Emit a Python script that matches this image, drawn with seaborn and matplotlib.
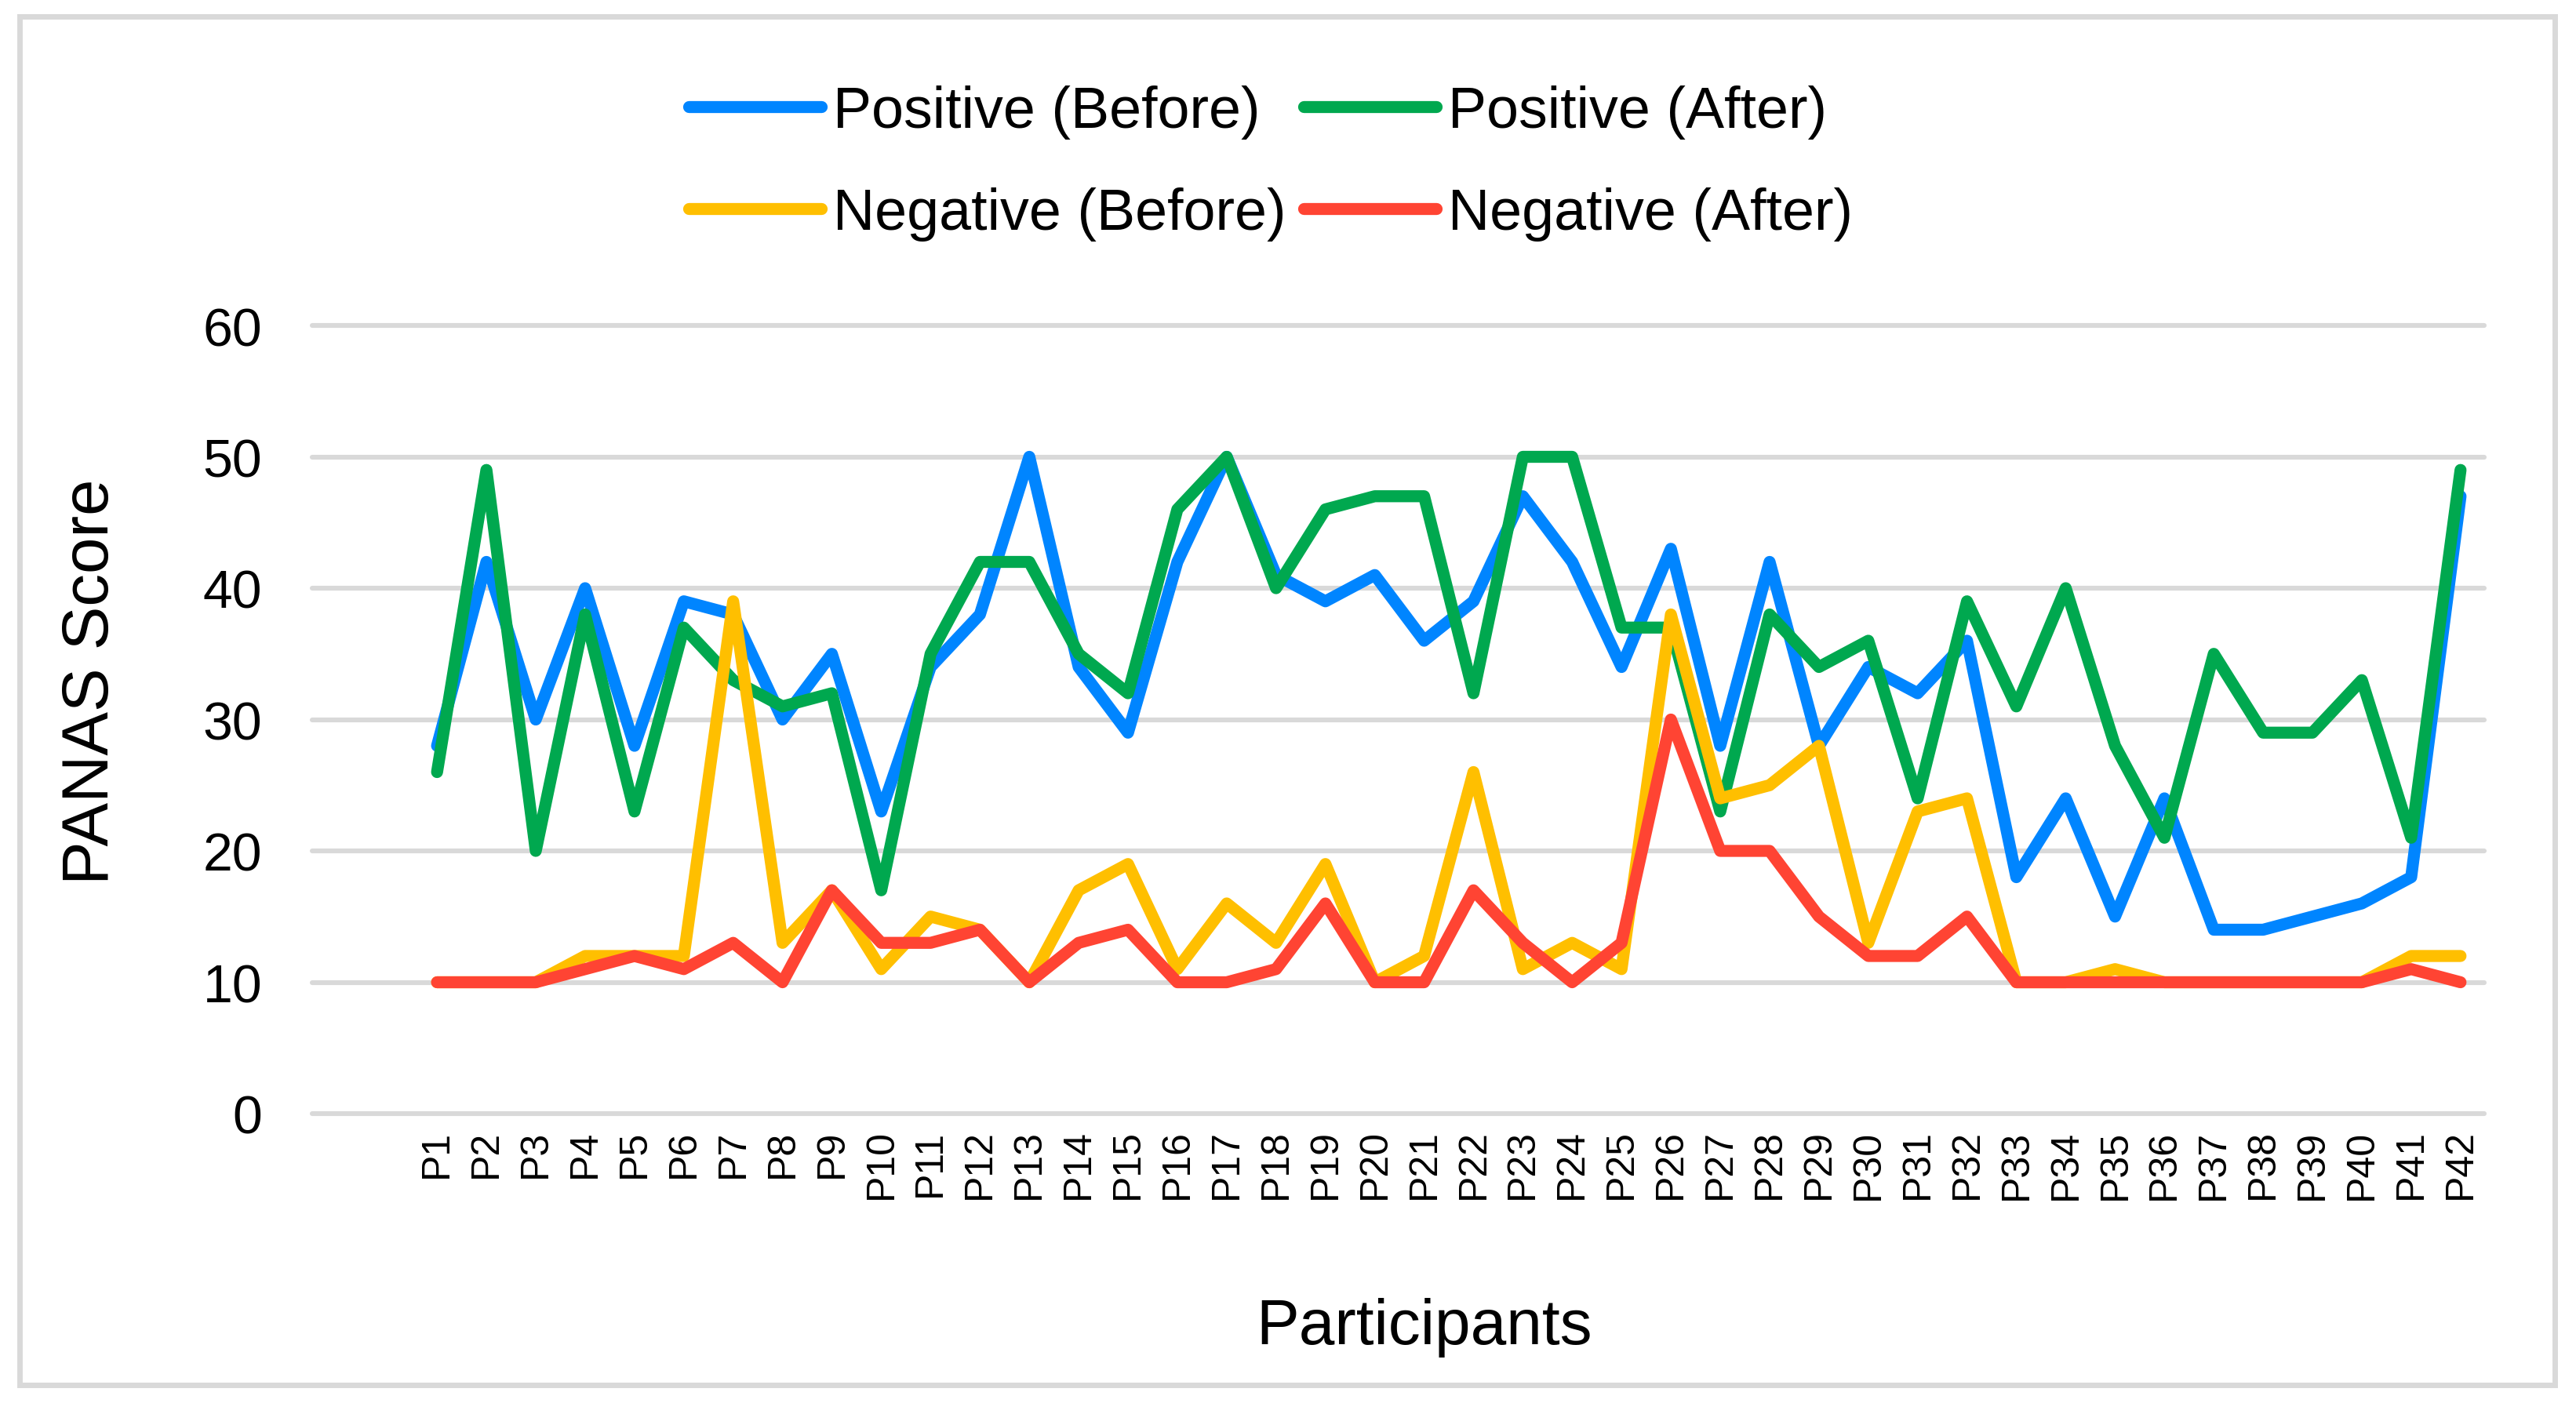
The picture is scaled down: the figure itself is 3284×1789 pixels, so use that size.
import numpy as np
import pandas as pd
import seaborn as sns
import matplotlib.pyplot as plt
from matplotlib.patches import Rectangle

participants = ['P' + str(i) for i in range(1, 43)]

pos_before = [28, 42, 30, 40, 28, 39, 38, 30, 35, 23, 34, 38, 50, 34, 29, 42, 50, 41, 39, 41, 36,
              39, 47, 42, 34, 43, 28, 42, 28, 34, 32, 36, 18, 24, 15, 24, 14, 14, 15, 16, 18, 47]
pos_after = [26, 49, 20, 38, 23, 37, 33, 31, 32, 17, 35, 42, 42, 35, 32, 46, 50, 40, 46, 47, 47,
             32, 50, 50, 37, 37, 23, 38, 34, 36, 24, 39, 31, 40, 28, 21, 35, 29, 29, 33, 21, 49]
neg_before = [10, 10, 10, 12, 12, 12, 39, 13, 17, 11, 15, 14, 10, 17, 19, 11, 16, 13, 19, 10, 12,
              26, 11, 13, 11, 38, 24, 25, 28, 13, 23, 24, 10, 10, 11, 10, 10, 10, 10, 10, 12, 12]
neg_after = [10, 10, 10, 11, 12, 11, 13, 10, 17, 13, 13, 14, 10, 13, 14, 10, 10, 11, 16, 10, 10,
             17, 13, 10, 13, 30, 20, 20, 15, 12, 12, 15, 10, 10, 10, 10, 10, 10, 10, 10, 11, 10]

series_names = ['Positive (Before)', 'Positive (After)', 'Negative (Before)', 'Negative (After)']
colors = ['#0085FF', '#00A84F', '#FFBF00', '#FF4433']

df = pd.DataFrame({
    'Participant': participants * 4,
    'Score': pos_before + pos_after + neg_before + neg_after,
    'Series': [s for s in series_names for _ in participants],
})

sns.set_theme(style='white')
plt.rcParams['font.family'] = ['Liberation Sans', 'DejaVu Sans']
plt.rcParams['text.color'] = 'black'

fig = plt.figure(figsize=(16.42, 8.95), dpi=200)
ax = fig.add_axes([398 / 3284, 1 - 1421 / 1790, (3167 - 398) / 3284, (1421 - 416) / 1790])

sns.lineplot(data=df, x='Participant', y='Score', hue='Series', hue_order=series_names,
             palette=colors, linewidth=5.5, sort=False, errorbar=None, ax=ax)
for line in ax.lines:
    line.set_solid_joinstyle('round')
    line.set_solid_capstyle('round')

ax.set_xlim(-2.53, 41.48)
ax.set_ylim(0, 60)
ax.set_yticks(range(0, 61, 10))
ax.grid(axis='y', color='#D9D9D9', linewidth=2.2)
ax.grid(axis='x', visible=False)
ax.set_axisbelow(True)
for gl in ax.get_ygridlines():
    gl.set_clip_on(False)
for s in ax.spines.values():
    s.set_visible(False)

ax.tick_params(axis='x', length=0, labelsize=18, labelrotation=90, pad=7, colors='black')
ax.tick_params(axis='y', length=0, labelsize=24.5, pad=23, colors='black')

ax.set_xlabel('Participants', fontsize=29.5, color='black')
ax.set_ylabel('PANAS Score', fontsize=30, color='black')
ax.xaxis.set_label_coords(0.512, -0.233)
ax.yaxis.set_label_coords(-0.0878, 0.549)

handles, labels = ax.get_legend_handles_labels()
ax.get_legend().remove()
order = [0, 2, 1, 3]
fig.legend([handles[i] for i in order], [labels[i] for i in order],
           loc='center', bbox_to_anchor=(0.4933, 0.8835), ncol=2, frameon=False,
           fontsize=26.5, handlelength=2.3, handletextpad=0.2, columnspacing=0.3,
           labelspacing=0.83, labelcolor='black')

fig.patches.append(Rectangle((25 / 3284, 1 - 1767 / 1790), (3257 - 25) / 3284, (1767 - 22) / 1790,
                             transform=fig.transFigure, fill=False, edgecolor='#D9D9D9',
                             linewidth=2.5))

fig.savefig('out.png', dpi=200)
